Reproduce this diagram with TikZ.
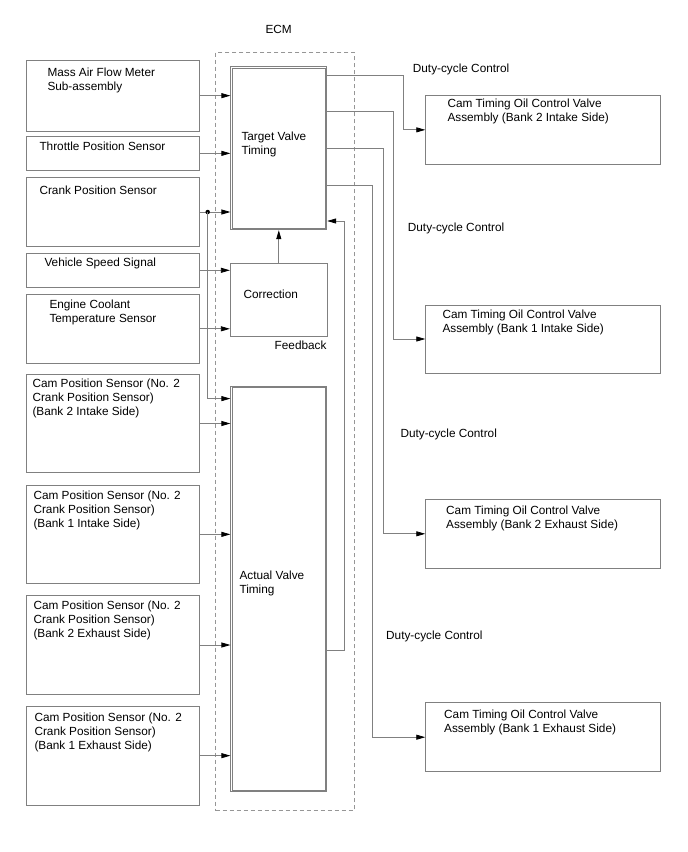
\documentclass[tikz,border=0pt]{standalone}
\usepackage{fontspec}
\setmainfont{Liberation Sans}
\usetikzlibrary{positioning, calc, arrows.meta}
\definecolor{linegray}{RGB}{128,128,128}
\definecolor{dashgray}{RGB}{150,150,150}

\begin{document}
\begin{tikzpicture}[x=1pt, y=-1pt,
        box/.style={draw=linegray, line width=0.8pt, inner sep=0pt},
        inbox/.style={box, minimum width=173pt},
        outbox/.style={box, minimum width=235pt},
        calcbox/.style={box, minimum width=96pt},
        ecmframe/.style={draw=dashgray, line width=0.8pt, dash pattern=on 4pt off 3pt, inner sep=0pt},
        txt/.style={font=\fontsize{11.8}{14}\selectfont, align=left, anchor=north west, inner sep=0pt},
        dot/.style={circle, fill=black, inner sep=0pt, minimum size=4.5pt},
        arr/.style={draw=linegray, line width=0.8pt, -{Triangle[length=9pt, width=5pt, color=black]}}
    ]
    \useasboundingbox (0,0) rectangle (688,852);

    % ECM frame
    \node[ecmframe, minimum width=138.6pt, minimum height=758.4pt] (ecm) at (285,431.5) {};
    \node[txt, anchor=center] (ecmlab) at (278.7,29.3) {ECM};

    % sensors
    \node[inbox, minimum height=70.7pt] (maf) at (112.5,95.65) {};
    \node[txt] (maftxt) at (47.3,67.7) {Mass Air Flow Meter\\Sub-assembly};
    \node[inbox, minimum height=33.3pt] (tps) at (112.5,153.35) {};
    \node[txt] (tpstxt) at (39.3,141.7) {Throttle Position Sensor};
    \node[inbox, minimum height=69.4pt] (crank) at (112.5,212) {};
    \node[txt] (cranktxt) at (39.3,185.7) {Crank Position Sensor};
    \node[inbox, minimum height=34pt] (vss) at (112.5,270.3) {};
    \node[txt] (vsstxt) at (44.3,257.7) {Vehicle Speed Signal};
    \node[inbox, minimum height=69pt] (ect) at (112.5,328.8) {};
    \node[txt] (ecttxt) at (49.3,299.7) {Engine Coolant\\Temperature Sensor};
    \node[inbox, minimum height=98.4pt] (cam1) at (112.5,423.5) {};
    \node[txt] (cam1txt) at (32.3,379) {Cam Position Sensor (No. 2\\Crank Position Sensor)\\(Bank 2 Intake Side)};
    \node[inbox, minimum height=98.7pt] (cam2) at (112.5,534.35) {};
    \node[txt] (cam2txt) at (33.3,490.7) {Cam Position Sensor (No. 2\\Crank Position Sensor)\\(Bank 1 Intake Side)};
    \node[inbox, minimum height=98.6pt] (cam3) at (112.5,645) {};
    \node[txt] (cam3txt) at (33.3,600.7) {Cam Position Sensor (No. 2\\Crank Position Sensor)\\(Bank 2 Exhaust Side)};
    \node[inbox, minimum height=99.3pt] (cam4) at (112.5,755.65) {};
    \node[txt] (cam4txt) at (34.3,712.4) {Cam Position Sensor (No. 2\\Crank Position Sensor)\\(Bank 1 Exhaust Side)};

    % ECM blocks (double frames)
    \node[calcbox, minimum height=163pt] (target) at (278.8,148.3) {};
    \draw[box] ([shift={(2pt,-2pt)}]target.north west) rectangle ([shift={(-2pt,2pt)}]target.south east);
    \node[txt] (targettxt) at (241.3,131.7) {Target Valve\\Timing};
    \node[box, minimum width=97pt, minimum height=72.7pt] (corr) at (278.8,299.65) {};
    \node[txt] (corrtxt) at (243.3,289.7) {Correction};
    \node[txt, anchor=north east] (fb) at (326.7,341) {Feedback};
    \node[calcbox, minimum height=405.3pt] (actual) at (278.8,588.85) {};
    \draw[box] ([shift={(2pt,-2pt)}]actual.north west) rectangle ([shift={(-2pt,2pt)}]actual.south east);
    \node[txt] (actualtxt) at (239.3,570.4) {Actual Valve\\Timing};

    % valves
    \node[outbox, minimum height=68.3pt] (out1) at (543.2,129.85) {};
    \node[txt] (out1txt) at (447.3,98.7) {Cam Timing Oil Control Valve\\Assembly (Bank 2 Intake Side)};
    \node[outbox, minimum height=68pt] (out2) at (543.2,339) {};
    \node[txt] (out2txt) at (442.3,309.7) {Cam Timing Oil Control Valve\\Assembly (Bank 1 Intake Side)};
    \node[outbox, minimum height=69pt] (out3) at (543.2,533.8) {};
    \node[txt] (out3txt) at (446,505.7) {Cam Timing Oil Control Valve\\Assembly (Bank 2 Exhaust Side)};
    \node[outbox, minimum height=69pt] (out4) at (543.2,737.2) {};
    \node[txt] (out4txt) at (444,709.4) {Cam Timing Oil Control Valve\\Assembly (Bank 1 Exhaust Side)};

    \node[txt] (duty1) at (412.7,63.4) {Duty-cycle Control};
    \node[txt] (duty2) at (407.7,222.4) {Duty-cycle Control};
    \node[txt] (duty3) at (400.3,428.4) {Duty-cycle Control};
    \node[txt] (duty4) at (386,630.7) {Duty-cycle Control};

    % inputs
    \draw[arr] (maf.east) -- (maf.east -| target.west);
    \draw[arr] (tps.east) -- (tps.east -| target.west);
    \draw[arr] (crank.east) -- (crank.east -| target.west);
    \node[dot] (split) at ([xshift=8.3pt]crank.east) {};
    \draw[arr] (split.center) |- ([yshift=-12.8pt]actual.north west);
    \draw[arr] (vss.east) -- (vss.east -| corr.west);
    \draw[arr] (ect.east) -- (ect.east -| corr.west);
    \draw[arr] (cam1.east) -- (cam1.east -| actual.west);
    \draw[arr] (cam2.east) -- (cam2.east -| actual.west);
    \draw[arr] (cam3.east) -- (cam3.east -| actual.west);
    \draw[arr] (cam4.east) -- (cam4.east -| actual.west);

    % inside ECM
    \draw[arr] (corr.north) -- (target.south);
    \draw[arr] ([yshift=-61.85pt]actual.east) -| ([xshift=17.2pt, yshift=-72.7pt]target.east) -- ([yshift=-72.7pt]target.east);

    % outputs
    \draw[arr] ([yshift=73.3pt]target.east) -| ([xshift=-21.7pt]out1.west) -- (out1.west);
    \draw[arr] ([yshift=36.6pt]target.east) -| ([xshift=-32.4pt]out2.west) -- (out2.west);
    \draw[arr] (target.east) -| ([xshift=-42.4pt]out3.west) -- (out3.west);
    \draw[arr] ([yshift=-36.7pt]target.east) -| ([xshift=-53.4pt]out4.west) -- (out4.west);

\end{tikzpicture}
\end{document}
